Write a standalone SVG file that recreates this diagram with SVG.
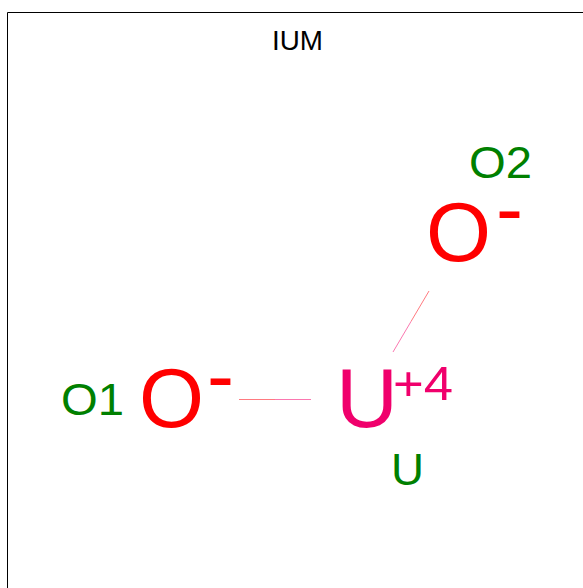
<svg xmlns="http://www.w3.org/2000/svg" width="583" height="588" viewBox="0 0 583 588">
<style>
text{font-family:"Liberation Sans",Arial,sans-serif}
.g{fill:#008000;font-size:45px}
.r{fill:#ff0000;font-size:83px}
.m{fill:#f0006c}
.a{stroke:#ff7a80;stroke-width:1;fill:none}
.b{stroke:#fb78b0;stroke-width:1;fill:none}
</style>
<rect width="583" height="588" fill="#fff"/>
<path d="M7.500 588V12.500H583" fill="none" stroke="#000" stroke-width="1"/>
<text id="title" x="272" y="50" font-size="28" fill="#000" textLength="51" lengthAdjust="spacingAndGlyphs">IUM</text>
<g id="connectors"><path class="a" d="M239 399.500H275"/><path class="b" d="M275 399.500H311"/><path class="a" d="M429 291L411 321.500"/><path class="b" d="M411 321.500L393 352"/></g>
<g id="O2"><text class="g" x="469" y="178" textLength="63" lengthAdjust="spacingAndGlyphs">O2</text><text class="r" x="426" y="260.500" textLength="65" lengthAdjust="spacingAndGlyphs">O</text><text class="r" x="496" y="237" textLength="27" lengthAdjust="spacingAndGlyphs">-</text></g>
<g id="O1"><text class="g" x="61" y="415" textLength="63" lengthAdjust="spacingAndGlyphs">O1</text><text class="r" x="139" y="426.500" textLength="65" lengthAdjust="spacingAndGlyphs">O</text><text class="r" x="207" y="404" textLength="27" lengthAdjust="spacingAndGlyphs">-</text></g>
<g id="U"><text class="m" x="336" y="426.500" font-size="83" textLength="62" lengthAdjust="spacingAndGlyphs">U</text><text class="m" x="393" y="400" font-size="48" textLength="60" lengthAdjust="spacingAndGlyphs">+4</text><text class="g" x="391" y="485" textLength="33" lengthAdjust="spacingAndGlyphs">U</text></g>
</svg>
